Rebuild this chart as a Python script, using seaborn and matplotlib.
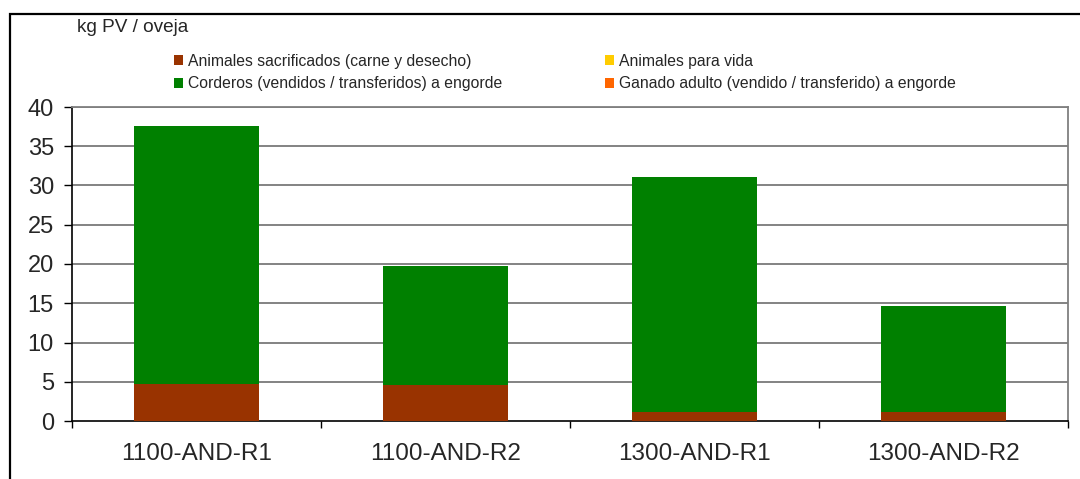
import matplotlib
matplotlib.use("Agg")
import matplotlib.pyplot as plt
from matplotlib.patches import Patch, Rectangle
from matplotlib.ticker import FixedLocator
import numpy as np
import pandas as pd
import seaborn as sns

# Live weight output per ewe, by farm group
categorias = ["1100-AND-R1", "1100-AND-R2", "1300-AND-R1", "1300-AND-R2"]
sacrificados = [4.7, 4.55, 1.2, 1.2]        # Animales sacrificados (carne y desecho)
para_vida = [0.0, 0.0, 0.0, 0.0]            # Animales para vida
corderos = [32.9, 15.25, 29.9, 13.4]        # Corderos (vendidos / transferidos) a engorde
ganado_adulto = [0.0, 0.0, 0.0, 0.0]        # Ganado adulto (vendido / transferido) a engorde

series_nombres = [
    "Animales sacrificados (carne y desecho)",
    "Animales para vida",
    "Corderos (vendidos / transferidos) a engorde",
    "Ganado adulto (vendido / transferido) a engorde",
]
colores = ["#993300", "#FFCC00", "#008000", "#FF6600"]
y_ticks = [0, 5, 10, 15, 20, 25, 30, 35, 40]

sns.set_theme(style="white")
plt.rcParams["font.family"] = ["Liberation Sans", "DejaVu Sans"]

W, H = 1080, 479
fig = plt.figure(figsize=(W / 100, H / 100), dpi=100)
ax = fig.add_axes([72 / W, 1 - 421 / H, (1068 - 72) / W, (421 - 107) / H])

# stacked segments in drawing order, each drawn as its cumulative total
stack = [sacrificados, para_vida, corderos, ganado_adulto]
cum = np.cumsum(np.array(stack, dtype=float), axis=0)
for i in range(len(stack) - 1, -1, -1):
    df = pd.DataFrame({"cat": categorias, "val": cum[i]})
    sns.barplot(data=df, x="cat", y="val", color=colores[i], width=0.5,
                saturation=1, ax=ax, zorder=3, linewidth=0)

ax.set_xlim(-0.5, len(categorias) - 0.5)
ax.set_ylim(0, 40)
ax.set_yticks(y_ticks)
ax.set_xlabel("")
ax.set_ylabel("")

# gridlines
for v in y_ticks[1:]:
    ax.axhline(v, color="#6e6e6e", lw=1.2, zorder=1)

for side in ["top", "right"]:
    ax.spines[side].set_visible(True)
    ax.spines[side].set_color("#808080")
    ax.spines[side].set_linewidth(1.3)
for side in ["left", "bottom"]:
    ax.spines[side].set_visible(True)
    ax.spines[side].set_color("black")
    ax.spines[side].set_linewidth(1.2)

ax.tick_params(axis="y", which="major", direction="out", length=6, width=1,
               color="black", left=True, pad=7, labelsize=17)
ax.tick_params(axis="x", which="major", length=0, pad=16, labelsize=17.5)
ax.xaxis.set_minor_locator(FixedLocator(np.arange(-0.5, len(categorias), 1.0)))
ax.tick_params(axis="x", which="minor", direction="out", length=5, width=1,
               color="black", bottom=True)

# unit label
fig.text(77 / W, 1 - 28 / H, "kg PV / oveja", fontsize=13.7, va="center", ha="left")

# legend in two columns
handles = [Patch(facecolor=c, edgecolor="none") for c in colores]
leg_kw = dict(frameon=False, fontsize=11.3, handlelength=0.6, handleheight=0.6,
              handletextpad=0.3, labelspacing=0.45, borderpad=0, borderaxespad=0,
              loc="upper left")
leg1 = fig.legend([handles[0], handles[2]], [series_nombres[0], series_nombres[2]],
                  bbox_to_anchor=(174 / W, 1 - 54 / H), **leg_kw)
leg2 = fig.legend([handles[1], handles[3]], [series_nombres[1], series_nombres[3]],
                  bbox_to_anchor=(605 / W, 1 - 54 / H), **leg_kw)

# chart-area frame
fig.patches.append(Rectangle((10 / W, -0.1), 1.2, 1 - 14 / H + 0.1,
                             transform=fig.transFigure, fill=False,
                             edgecolor="black", lw=1.6, zorder=0))

fig.savefig("out.png", dpi=100)
